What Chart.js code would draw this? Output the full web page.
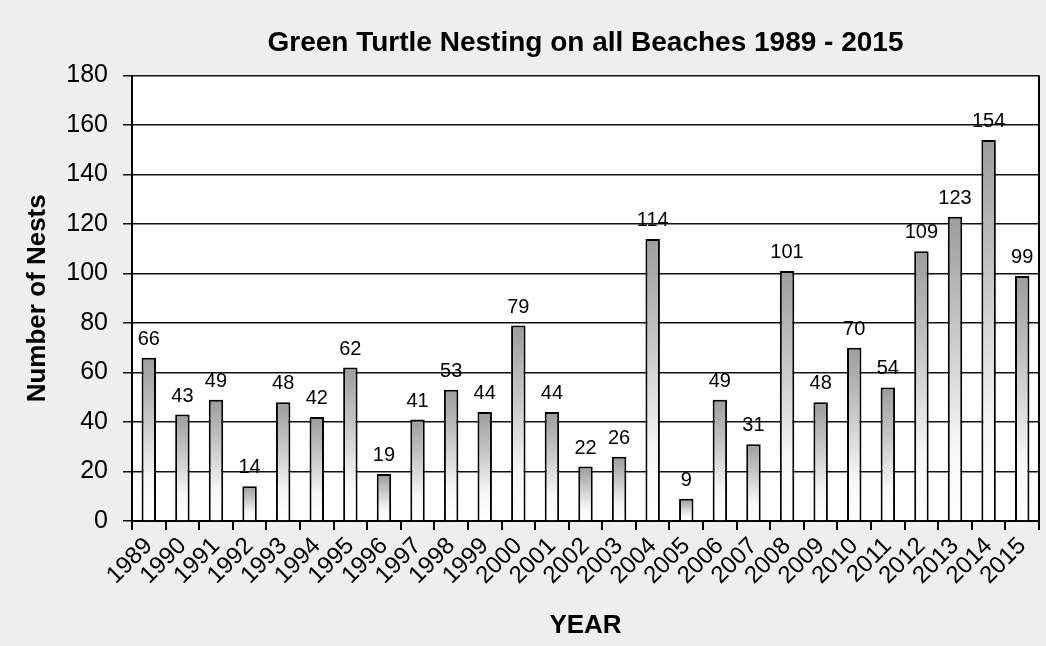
<!DOCTYPE html>
<html>
<head>
<meta charset="utf-8">
<title>Green Turtle Nesting</title>
<script src="https://cdn.jsdelivr.net/npm/chart.js@4/dist/chart.umd.min.js"></script>
<style>
  html, body { margin: 0; padding: 0; background: #eeeeee; }
  canvas { display: block; }
</style>
</head>
<body>
<canvas id="chart" width="1046" height="646"></canvas>
<script>
const years = ['1989', '1990', '1991', '1992', '1993', '1994', '1995', '1996', '1997',
  '1998', '1999', '2000', '2001', '2002', '2003', '2004', '2005', '2006', '2007',
  '2008', '2009', '2010', '2011', '2012', '2013', '2014', '2015'];
const nests = [66, 43, 49, 14, 48, 42, 62, 19, 41, 53, 44, 79, 44, 22, 26, 114, 9, 49, 31,
  101, 48, 70, 54, 109, 123, 154, 99];
const yMax = 180;
const yStep = 20;

const FONT = "'Liberation Sans', Arial, sans-serif";

// grey page behind, white plot area, black right edge
const backdrop = {
  id: 'backdrop',
  beforeDraw(chart) {
    const { ctx, chartArea: a } = chart;
    ctx.save();
    ctx.fillStyle = '#eeeeee';
    ctx.fillRect(0, 0, chart.width, chart.height);
    ctx.fillStyle = '#ffffff';
    ctx.fillRect(a.left, a.top, a.right - a.left, a.bottom - a.top);
    ctx.restore();
  },
  afterDraw(chart) {
    const { ctx, chartArea: a } = chart;
    ctx.save();
    ctx.strokeStyle = '#000';
    ctx.lineWidth = 2;
    ctx.beginPath();
    ctx.moveTo(a.right, a.top);
    ctx.lineTo(a.right, a.bottom);
    ctx.stroke();
    ctx.restore();
  }
};

// value above each bar
const barValues = {
  id: 'barValues',
  afterDatasetsDraw(chart) {
    const { ctx } = chart;
    const meta = chart.getDatasetMeta(0);
    ctx.save();
    ctx.font = '20px ' + FONT;
    ctx.fillStyle = '#000';
    ctx.textAlign = 'center';
    ctx.textBaseline = 'alphabetic';
    meta.data.forEach((bar, i) => {
      ctx.fillText(String(nests[i]), bar.x, bar.y - 13);
    });
    ctx.restore();
  }
};

const ctx = document.getElementById('chart').getContext('2d');

new Chart(ctx, {
  type: 'bar',
  data: {
    labels: years,
    datasets: [
      {
        label: 'Nests',
        data: nests,
        backgroundColor: (c) => {
          const chart = c.chart;
          if (!chart.chartArea || c.type !== 'data') return '#bbbbbb';
          const y = chart.scales.y;
          const top = y.getPixelForValue(c.parsed.y);
          const bottom = y.getPixelForValue(0);
          const g = chart.ctx.createLinearGradient(0, top, 0, bottom);
          g.addColorStop(0, '#9c9c9c');
          g.addColorStop(0.35, '#c4c4c4');
          g.addColorStop(0.75, '#f6f6f6');
          g.addColorStop(1, '#ffffff');
          return g;
        },
        borderColor: '#000',
        borderWidth: 2,
        barPercentage: 0.43,
        categoryPercentage: 1,
      },
    ],
  },
  options: {
    responsive: false,
    animation: false,
    layout: { padding: { left: 0, right: 7, top: 0, bottom: 0 } },
    plugins: {
      legend: { display: false },
      tooltip: { enabled: false },
      title: {
        display: true,
        fullSize: false,
        text: 'Green Turtle Nesting on all Beaches 1989 - 2015',
        color: '#000',
        font: { family: FONT, size: 28, weight: 'bold' },
        padding: { top: 26, bottom: 16 },
      },
    },
    scales: {
      x: {
        grid: {
          offset: true,
          drawOnChartArea: false,
          drawTicks: true,
          tickLength: 9,
          color: '#000',
          lineWidth: 2,
        },
        border: { display: true, color: '#000', width: 2 },
        ticks: {
          autoSkip: false,
          maxRotation: 45,
          minRotation: 45,
          padding: 2,
          color: '#000',
          font: { family: FONT, size: 24 },
        },
        title: {
          display: true,
          text: 'YEAR',
          color: '#000',
          font: { family: FONT, size: 26, weight: 'bold' },
          padding: { top: 0, bottom: 5 },
        },
        afterFit(scale) { scale.height = 125; },
      },
      y: {
        min: 0,
        max: yMax,
        grid: {
          color: '#111',
          lineWidth: 1.5,
          drawTicks: true,
          tickLength: 9,
        },
        border: { display: true, color: '#000', width: 2 },
        ticks: {
          stepSize: yStep,
          padding: 15,
          color: '#000',
          font: { family: FONT, size: 25 },
        },
        title: {
          display: true,
          text: 'Number of Nests',
          color: '#000',
          font: { family: FONT, size: 26, weight: 'bold' },
          padding: { top: 22, bottom: 0 },
        },
        afterFit(scale) { scale.width = 132; },
      },
    },
  },
  plugins: [backdrop, barValues],
});
</script>
</body>
</html>
